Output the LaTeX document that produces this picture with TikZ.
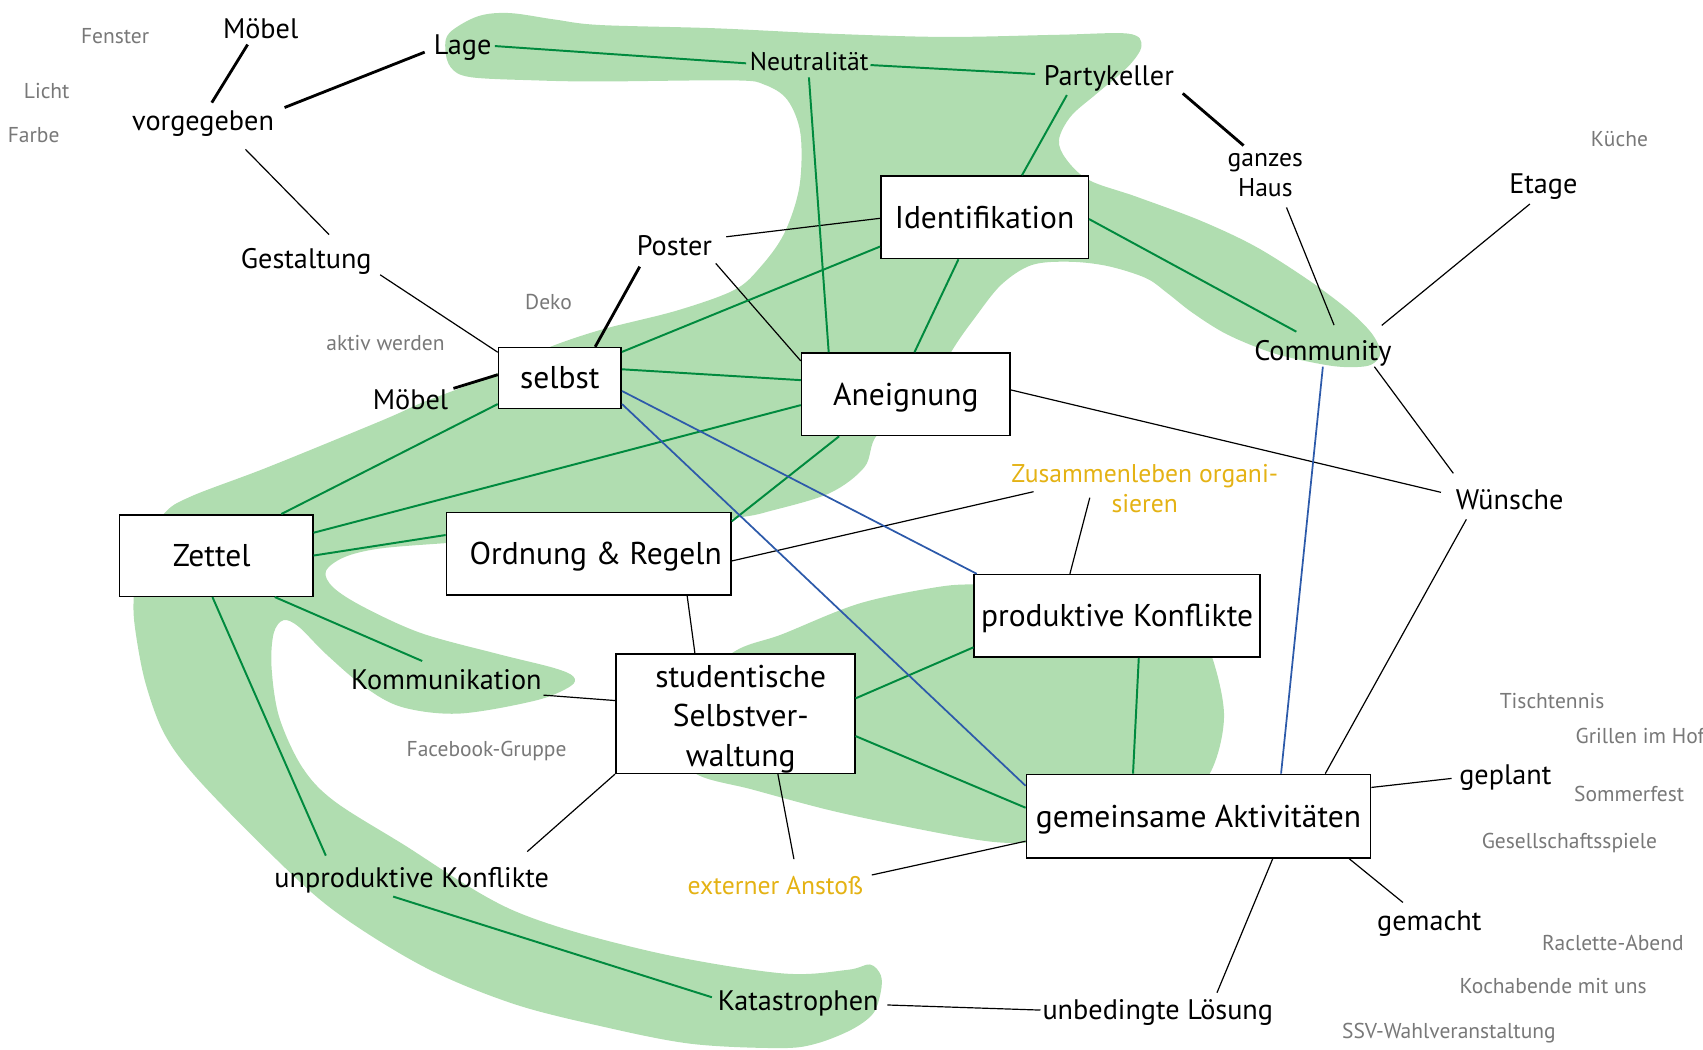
\documentclass[tikz,border=0pt]{standalone}
\usepackage{fontspec}
\setmainfont{PT Sans}
\usetikzlibrary{calc}
\definecolor{blobfill}{RGB}{176,221,176}
\definecolor{linegreen}{RGB}{0,138,62}
\definecolor{lineblue}{RGB}{45,90,170}
\definecolor{goldtext}{RGB}{228,178,20}
\definecolor{greytext}{RGB}{120,120,120}
\newcommand{\fntbox}{\fontsize{14.5}{18}\selectfont}
\newcommand{\fntlbl}{\fontsize{13}{15.6}\selectfont}
\newcommand{\fntsml}{\fontsize{11.8}{13.8}\selectfont}
\newcommand{\fntgry}{\fontsize{9.9}{11.5}\selectfont}
\begin{document}
\begin{tikzpicture}[x=0.5pt,y=-0.5pt,
  cbox/.style={draw=black, line width=0.7pt, fill=white, inner sep=0pt, font=\fntbox},
  capbox/.style={cbox, text height=10.15pt, text depth=0pt},
  lbl/.style={inner sep=0pt, font=\fntlbl, text height=9.1pt, text depth=0pt},
  sml/.style={inner sep=0pt, font=\fntsml, text height=8.26pt, text depth=0pt},
  smlml/.style={inner sep=0pt, font=\fntsml, align=center},
  gry/.style={inner sep=0pt, font=\fntgry, text=greytext, text height=6.93pt, text depth=0pt},
  gld/.style={inner sep=0pt, font=\fntsml, text=goldtext, text height=8.26pt, text depth=0pt},
  gldml/.style={inner sep=0pt, font=\fntsml, text=goldtext, align=center},
  thinln/.style={line width=0.55pt, draw=black},
  heavyln/.style={line width=1.3pt, draw=black},
  grnln/.style={line width=0.9pt, draw=linegreen},
  bluln/.style={line width=0.8pt, draw=lineblue},
  blob/.style={fill=blobfill, draw=none}]
\useasboundingbox (0,0) rectangle (1568,966);

% ---------- green areas ----------
\path[blob] plot[smooth cycle, tension=0.55] coordinates {
(410,45) (414,30) (440,15) (469,12) (511,18) (552,23) (658,26) (764,31) (870,34) (975,32) (1039,31) (1051,42) (1039,61) (1010,86) (986,107) (975,129) (982,147) (1003,166) (1046,181) (1105,203) (1156,227) (1205,258) (1241,285) (1263,307) (1271,325) (1262,336) (1240,338) (1215,335) (1172,325) (1130,308) (1098,288) (1075,270) (1055,256) (1020,245) (985,241) (950,244) (922,262) (898,292) (877,322) (850,370) (808,400) (796,430) (764,454) (711,470) (676,477) (560,490) (470,496) (411,500) (350,505) (317,513) (300,526) (307,541) (335,559) (388,583) (458,602) (510,615) (528,623) (525,632) (493,645) (423,657) (370,651) (335,632) (300,602) (275,577) (261,571) (252,583) (250,614) (257,660) (278,706) (307,737) (369,776) (472,838) (595,875) (718,896) (780,893) (801,888) (811,898) (811,913) (804,933) (784,948) (751,961) (718,965) (636,961) (554,945) (472,924) (390,890) (307,838) (246,783) (180,715) (151,675) (134,629) (125,583) (123,553) (128,510) (151,473) (176,457) (247,430) (352,387) (388,371) (430,355) (459,343) (500,322) (552,304) (623,286) (676,267) (700,246) (722,215) (736,172) (737,123) (725,92) (704,78) (676,74) (552,75) (493,74) (433,71) (415,62)};
\path[blob] plot[smooth cycle, tension=0.55] coordinates {
(676,600) (720,584) (790,556) (860,541) (900,538) (980,540) (1060,555) (1100,580) (1116,605) (1127,660) (1114,712) (1080,745) (1000,772) (945,776) (905,774) (834,761) (764,746) (693,727) (640,712) (620,680) (630,640)};

% ---------- boxes ----------
\node[capbox, minimum width=95.5pt, minimum height=38pt] (ident) at (906.5,200) {Identifikation};
\node[capbox, minimum width=96pt, minimum height=38pt] (aneig) at (834,363) {Aneignung};
\node[capbox, minimum width=56.5pt, minimum height=28pt] (selbst) at (515.5,348) {selbst};
\node[capbox, minimum width=89pt, minimum height=37.5pt] (zettel) at (199,511.5) {Zettel\hspace*{4pt}};
\node[capbox, minimum width=131pt, minimum height=38pt] (ordnung) at (542,510) {\hspace*{6.5pt}Ordnung \& Regeln};
\node[capbox, minimum width=131.5pt, minimum height=38pt] (prod) at (1028.5,567) {produktive Konflikte};
\node[cbox, align=center, minimum width=110pt, minimum height=55pt] (stud) at (677,657) {\rule{0pt}{15.4pt}\hspace*{5pt}studentische\\\hspace*{5pt}Selbstver-\\\hspace*{5pt}waltung};
\node[capbox, minimum width=158.5pt, minimum height=38.5pt] (gem) at (1103.5,751.5) {gemeinsame Aktivitäten};

% ---------- labels ----------
\node[gry] (fenster) at (106,33) {Fenster};
\node[lbl] (moebelA) at (240,26) {Möbel};
\node[gry] (licht) at (43,84) {Licht};
\node[gry] (farbe) at (31,124) {Farbe};
\node[lbl] (vorg) at (187,111) {vorgegeben};
\node[lbl] (lage) at (426,41) {Lage};
\node[sml] (neutr) at (745,57) {Neutralität};
\node[lbl] (party) at (1021,70) {Partykeller};
\node[smlml] (ganzes) at (1165,161) {ganzes\\Haus};
\node[gry] (kueche) at (1491,128) {Küche};
\node[lbl] (etage) at (1421,169) {Etage};
\node[lbl] (poster) at (621,226) {Poster};
\node[lbl] (gestalt) at (282,238) {Gestaltung};
\node[gry] (deko) at (505,278) {Deko};
\node[gry] (aktiv) at (355,316) {aktiv werden};
\node[lbl] (moebelB) at (378,368) {Möbel};
\node[lbl] (community) at (1218,323) {Community};
\node[gldml] (zusammen) at (1054,450) {Zusammenleben organi-\\sieren};
\node[lbl] (wuensche) at (1390,460) {Wünsche};
\node[lbl] (kommun) at (411,626) {Kommunikation};
\node[gry] (facebook) at (448,690) {Facebook-Gruppe};
\node[gry] (tisch) at (1429,645) {Tischtennis};
\node[gry] (grillen) at (1510,678) {Grillen im Hof};
\node[lbl] (geplant) at (1386,713) {geplant};
\node[gry] (sommer) at (1500,731) {Sommerfest};
\node[gry] (gesell) at (1445,774) {Gesellschaftsspiele};
\node[lbl] (unprod) at (379,808) {unproduktive Konflikte};
\node[gld] (extern) at (714,815) {externer Anstoß};
\node[lbl] (gemacht) at (1316,848) {gemacht};
\node[gry] (raclette) at (1485,868) {Raclette-Abend};
\node[gry] (koch) at (1430,908) {Kochabende mit uns};
\node[lbl] (katas) at (735,921) {Katastrophen};
\node[lbl] (unbed) at (1066,930) {unbedingte Lösung};
\node[gry] (ssv) at (1334,949) {SSV-Wahlveranstaltung};

% ---------- heavy black connectors ----------
\draw[heavyln] ($(moebelA)+(-12,15)$) -- ($(vorg)+(8,-16.5)$);
\draw[heavyln] ($(vorg)+(75,-12)$) -- ($(lage)+(-35,7)$);
\draw[heavyln] ($(party)+(68,16)$) -- ($(ganzes)+(-20,-27)$);
\draw[heavyln] ($(poster)+(-32,19.5)$) -- ($(selbst.north)+(32.5,0)$);
\draw[heavyln] ($(moebelB)+(39.5,-10.4)$) -- ($(selbst.west)+(0,-3)$);

% ---------- thin black connectors ----------
\draw[thinln] ($(vorg)+(39,26.5)$) -- ($(gestalt)+(21,-22)$);
\draw[thinln] ($(gestalt)+(68,15)$) -- ($(selbst.north west)+(0,5)$);
\draw[thinln] ($(poster)+(47.7,-8)$) -- ($(ident.west)+(0,1)$);
\draw[thinln] ($(poster)+(38,16.5)$) -- ($(aneig.north west)+(0,8)$);
\draw[thinln] ($(ganzes)+(19.5,30)$) -- ($(community)+(10.3,-23.7)$);
\draw[thinln] ($(etage)+(-12.4,18.8)$) -- ($(community)+(54.2,-23.4)$);
\draw[thinln] ($(community)+(47.4,14.6)$) -- ($(wuensche)+(-51.9,-24.2)$);
\draw[thinln] ($(aneig.east)+(0,-4)$) -- ($(wuensche)+(-63.3,-6.7)$);
\draw[thinln] ($(wuensche)+(-39.9,18.2)$) -- ($(gem.north)+(116.7,0)$);
\draw[thinln] ($(ordnung.east)+(0,6.5)$) -- ($(zusammen)+(-102.4,2.7)$);
\draw[thinln] ($(zusammen)+(-50.6,8.2)$) -- ($(prod.north)+(-43.4,0)$);
\draw[thinln] ($(ordnung.south)+(90.7,0)$) -- ($(stud.north)+(-37.2,0)$);
\draw[thinln] ($(kommun)+(89.4,14)$) -- ($(stud.west)+(0,-12)$);
\draw[thinln] (stud.south west) -- ($(unprod)+(106.4,-23.9)$);
\draw[thinln] ($(stud.south)+(39.2,0)$) -- ($(extern)+(17,-24)$);
\draw[thinln] ($(extern)+(88.7,-9.4)$) -- ($(gem.west)+(0,23)$);
\draw[thinln] ($(gem.east)+(0,-26.5)$) -- ($(geplant)+(-49.5,3.7)$);
\draw[thinln] ($(gem.south)+(138.8,0)$) -- ($(gemacht)+(-24.3,-17.1)$);
\draw[thinln] ($(gem.south)+(68.3,0)$) -- ($(unbed)+(54.5,-16)$);
\draw[thinln] ($(katas)+(82,4.3)$) -- ($(unbed)+(-108,0)$);

% ---------- green connectors ----------
\draw[grnln] ($(lage)+(29.6,1.4)$) -- ($(neutr)+(-58,1.3)$);
\draw[grnln] ($(neutr)+(56.5,2.9)$) -- ($(party)+(-68,-1.9)$);
\draw[grnln] ($(neutr)+(-0.2,14.2)$) -- ($(aneig.north)+(-71,0)$);
\draw[grnln] ($(party)+(-38.7,17.5)$) -- ($(ident.north)+(34.5,0)$);
\draw[grnln] ($(ident.east)+(0,1.7)$) -- ($(community)+(-24.4,-17.6)$);
\draw[grnln] ($(ident.south)+(-24,0)$) -- ($(aneig.north)+(8,0)$);
\draw[grnln] ($(ident.west)+(0,27)$) -- ($(selbst.east)+(0,-24)$);
\draw[grnln] ($(selbst.east)+(0,-8)$) -- ($(aneig.west)+(0,-13)$);
\draw[grnln] ($(selbst.west)+(0,24)$) -- ($(zettel.north)+(60,0)$);
\draw[grnln] ($(aneig.west)+(0,10)$) -- ($(zettel.east)+(0,-21)$);
\draw[grnln] ($(aneig.south)+(-61.4,0)$) -- ($(ordnung.east)+(0,-30)$);
\draw[grnln] ($(ordnung.west)+(0,-17.4)$) -- (zettel.east);
\draw[grnln] ($(zettel.south)+(54,0)$) -- ($(kommun)+(-22.3,-17.4)$);
\draw[grnln] ($(zettel.south)+(-3.4,0)$) -- ($(unprod)+(-79,-20.2)$);
\draw[grnln] ($(unprod)+(-17,17.5)$) -- ($(katas)+(-79.5,-2.8)$);
\draw[grnln] ($(stud.east)+(0,-14)$) -- ($(prod.west)+(0,29)$);
\draw[grnln] ($(stud.east)+(0,20.7)$) -- ($(gem.west)+(0,-7.8)$);
\draw[grnln] ($(prod.south)+(20,0)$) -- ($(gem.north)+(-60.3,0)$);

% ---------- blue connectors ----------
\draw[bluln] ($(selbst.east)+(0,12)$) -- ($(prod.north west)+(3,0)$);
\draw[bluln] ($(selbst.east)+(0,24)$) -- ($(gem.west)+(0,-28)$);
\draw[bluln] ($(community)+(0,14.6)$) -- ($(gem.north)+(76,0)$);
\end{tikzpicture}
\end{document}
